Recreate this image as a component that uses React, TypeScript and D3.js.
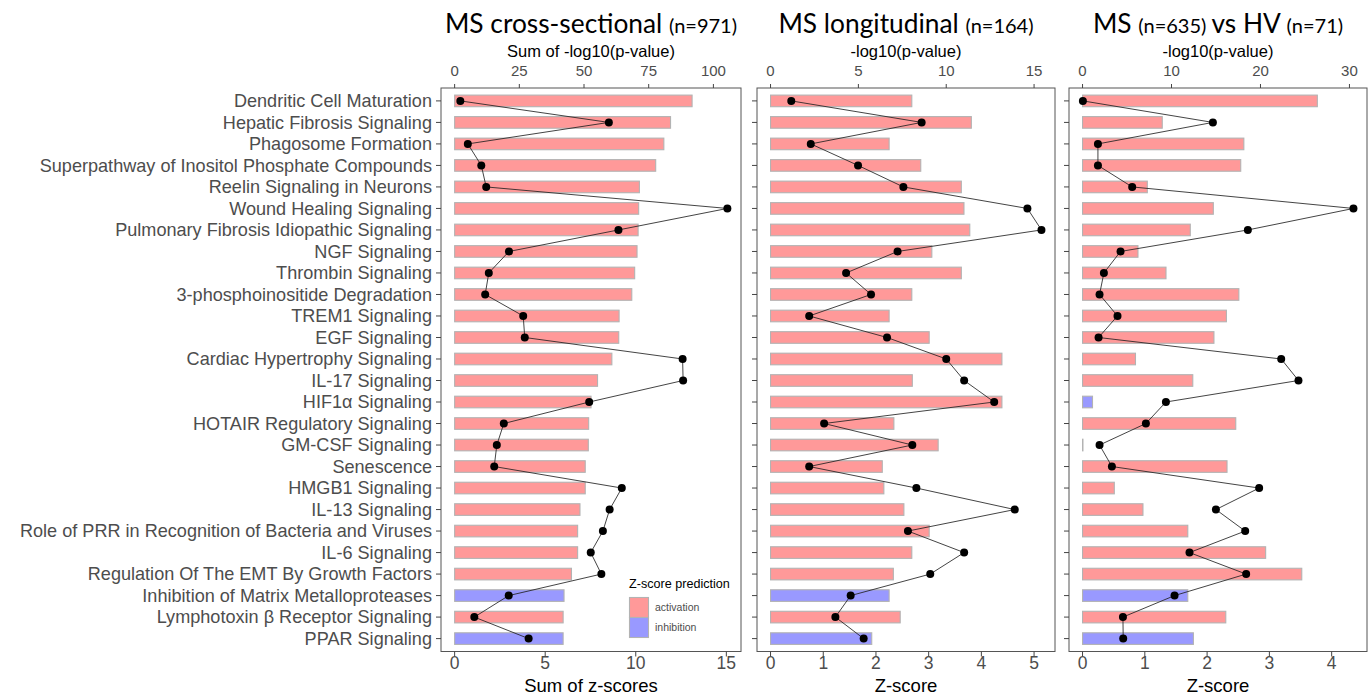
import React from "react";
import * as d3 from "d3";

const categories = [
  "Dendritic Cell Maturation",
  "Hepatic Fibrosis Signaling",
  "Phagosome Formation",
  "Superpathway of Inositol Phosphate Compounds",
  "Reelin Signaling in Neurons",
  "Wound Healing Signaling",
  "Pulmonary Fibrosis Idiopathic Signaling",
  "NGF Signaling",
  "Thrombin Signaling",
  "3-phosphoinositide Degradation",
  "TREM1 Signaling",
  "EGF Signaling",
  "Cardiac Hypertrophy Signaling",
  "IL-17 Signaling",
  "HIF1α Signaling",
  "HOTAIR Regulatory Signaling",
  "GM-CSF Signaling",
  "Senescence",
  "HMGB1 Signaling",
  "IL-13 Signaling",
  "Role of PRR in Recognition of Bacteria and Viruses",
  "IL-6 Signaling",
  "Regulation Of The EMT By Growth Factors",
  "Inhibition of Matrix Metalloproteases",
  "Lymphotoxin β Receptor Signaling",
  "PPAR Signaling",
];

// Panel 1: MS cross-sectional
const crossZ = [13.11, 11.92, 11.55, 11.1, 10.2, 10.16, 10.13, 10.07, 9.94, 9.78, 9.08, 9.06, 8.68, 7.89, 7.53, 7.4, 7.38, 7.21, 7.21, 6.92, 6.79, 6.79, 6.45, 6.04, 5.99, 5.99];
const crossP = [2.2, 59.6, 5.1, 10.3, 12.2, 105.4, 63.3, 21, 13.2, 11.8, 26.5, 27.1, 88.1, 88.3, 52, 19, 16.3, 15.3, 64.6, 59.9, 57.3, 52.6, 56.7, 20.9, 7.6, 28.6];
const crossDir = ["a","a","a","a","a","a","a","a","a","a","a","a","a","a","a","a","a","a","a","a","a","a","a","i","a","i"];

// Panel 2: MS longitudinal
const longZ = [2.68, 3.81, 2.25, 2.85, 3.62, 3.67, 3.78, 3.06, 3.62, 2.68, 2.25, 3.01, 4.39, 2.69, 4.39, 2.34, 3.18, 2.12, 2.15, 2.53, 3.01, 2.68, 2.33, 2.25, 2.46, 1.92];
const longP = [1.18, 8.6, 2.29, 4.98, 7.56, 14.62, 15.42, 7.23, 4.3, 5.72, 2.2, 6.63, 10.0, 11.02, 12.73, 3.05, 8.07, 2.2, 8.3, 13.9, 7.82, 11.02, 9.09, 4.56, 3.69, 5.3];
const longDir = ["a","a","a","a","a","a","a","a","a","a","a","a","a","a","a","a","a","a","a","a","a","a","a","i","a","i"];

// Panel 3: MS vs HV
const hvZ = [3.77, 1.28, 2.59, 2.54, 1.04, 2.1, 1.73, 0.89, 1.34, 2.51, 2.31, 2.11, 0.85, 1.77, 0.16, 2.46, 0.0, 2.32, 0.51, 0.97, 1.69, 2.94, 3.52, 1.69, 2.3, 1.78];
const hvP = [0.04, 14.65, 1.73, 1.73, 5.58, 30.45, 18.58, 4.27, 2.4, 1.91, 3.93, 1.8, 22.33, 24.27, 9.37, 7.12, 1.91, 3.3, 19.85, 14.99, 18.28, 12.02, 18.39, 10.34, 4.54, 4.57];
const hvDir = ["a","a","a","a","a","a","a","a","a","a","a","a","a","a","i","a","n","a","a","a","a","a","a","i","a","i"];

const crossBottomTicks = [0, 5, 10, 15];
const crossTopTicks = [0, 25, 50, 75, 100];
const longBottomTicks = [0, 1, 2, 3, 4, 5];
const longTopTicks = [0, 5, 10, 15];
const hvBottomTicks = [0, 1, 2, 3, 4];
const hvTopTicks = [0, 10, 20, 30];

const legendKeys = ["activation", "inhibition"];

const FILL: Record<string, string> = { a: "#FF9999", i: "#9999FF", n: "#FFFFFF" };
const TEXT_GREY = "#4D4D4D";
const AXIS_FONT = "'Liberation Sans', Arial, sans-serif";
const TITLE_FONT = "Lato, 'Open Sans', sans-serif";

type Panel = {
  z: number[];
  p: number[];
  dir: string[];
  k: number;
  left: number;
  right: number;
  bottomTicks: number[];
  topTicks: number[];
  topTitle: string;
  bottomTitle: string;
  title: { text: string; big: boolean }[];
};

const panels: Panel[] = [
  {
    z: crossZ, p: crossP, dir: crossDir, k: 7, left: 441, right: 741,
    bottomTicks: crossBottomTicks, topTicks: crossTopTicks,
    topTitle: "Sum of -log10(p-value)", bottomTitle: "Sum of z-scores",
    title: [{ text: "MS cross-sectional ", big: true }, { text: "(n=971)", big: false }],
  },
  {
    z: longZ, p: longP, dir: longDir, k: 3, left: 757, right: 1055,
    bottomTicks: longBottomTicks, topTicks: longTopTicks,
    topTitle: "-log10(p-value)", bottomTitle: "Z-score",
    title: [{ text: "MS longitudinal ", big: true }, { text: "(n=164)", big: false }],
  },
  {
    z: hvZ, p: hvP, dir: hvDir, k: 7, left: 1069, right: 1367,
    bottomTicks: hvBottomTicks, topTicks: hvTopTicks,
    topTitle: "-log10(p-value)", bottomTitle: "Z-score",
    title: [
      { text: "MS ", big: true }, { text: "(n=635) ", big: false },
      { text: "vs HV ", big: true }, { text: "(n=71)", big: false },
    ],
  },
];

const TOP = 88;
const BOTTOM = 651.5;

const y = d3.scalePoint<string>().domain(categories).range([TOP, BOTTOM]).padding(0.6);
const barH = y.step() * 0.54;

function PanelView({ pn, showLabels, showLegend }: { pn: Panel; showLabels: boolean; showLegend: boolean }) {
  const M = Math.max(d3.max(pn.z) as number, (d3.max(pn.p) as number) / pn.k);
  const x = d3.scaleLinear().domain([-0.05 * M, M * 1.05]).range([pn.left, pn.right]);
  const xTop = d3.scaleLinear().domain([-0.05 * M * pn.k, M * 1.05 * pn.k]).range([pn.left, pn.right]);
  const line = d3
    .line<number>()
    .x((d) => xTop(d))
    .y((_, i) => y(categories[i]) as number);
  const cx = (pn.left + pn.right) / 2;
  return (
    <g>
      {/* bars */}
      {categories.map((c, i) => (
        <rect
          key={"b" + i}
          x={x(0)}
          y={(y(c) as number) - barH / 2}
          width={Math.max(0.4, x(pn.z[i]) - x(0))}
          height={barH}
          fill={FILL[pn.dir[i]]}
          stroke="#B3B3B3"
          strokeWidth={1.1}
        />
      ))}
      {/* line + points */}
      <path d={line(pn.p) as string} fill="none" stroke="#222" strokeWidth={0.85} />
      {categories.map((c, i) => (
        <circle key={"p" + i} cx={xTop(pn.p[i])} cy={y(c) as number} r={4} fill="#000" />
      ))}
      {/* panel border */}
      <rect x={pn.left} y={TOP} width={pn.right - pn.left} height={BOTTOM - TOP} fill="none" stroke="#555" strokeWidth={1} />
      {/* left ticks */}
      {categories.map((c, i) => (
        <line key={"yt" + i} x1={pn.left - 5} x2={pn.left} y1={y(c) as number} y2={y(c) as number} stroke="#444" strokeWidth={1} />
      ))}
      {showLabels &&
        categories.map((c, i) => (
          <text
            key={"yl" + i}
            x={pn.left - 9}
            y={y(c) as number}
            dy="0.35em"
            textAnchor="end"
            fontFamily={AXIS_FONT}
            fontSize={18.1}
            fill={TEXT_GREY}
          >
            {c}
          </text>
        ))}
      {/* bottom axis */}
      {pn.bottomTicks.map((t) => (
        <g key={"bt" + t}>
          <line x1={x(t)} x2={x(t)} y1={BOTTOM} y2={BOTTOM + 5} stroke="#444" strokeWidth={1} />
          <text x={x(t)} y={BOTTOM + 17} textAnchor="middle" fontFamily={AXIS_FONT} fontSize={17.5} fill={TEXT_GREY}>
            {t}
          </text>
        </g>
      ))}
      <text x={cx} y={691.5} textAnchor="middle" fontFamily={AXIS_FONT} fontSize={18.5} fill="#000">
        {pn.bottomTitle}
      </text>
      {/* top axis */}
      {pn.topTicks.map((t) => (
        <g key={"tt" + t}>
          <line x1={xTop(t)} x2={xTop(t)} y1={TOP - 4} y2={TOP} stroke="#444" strokeWidth={1} />
          <text x={xTop(t)} y={76} textAnchor="middle" fontFamily={AXIS_FONT} fontSize={15} fill={TEXT_GREY}>
            {t}
          </text>
        </g>
      ))}
      <text x={cx} y={57} textAnchor="middle" fontFamily={AXIS_FONT} fontSize={16.5} fill="#000">
        {pn.topTitle}
      </text>
      {/* title */}
      <text x={cx} y={33} textAnchor="middle" fontFamily={TITLE_FONT} fill="#000">
        {pn.title.map((t, i) => (
          <tspan key={i} fontSize={t.big ? 26.3 : 20}>
            {t.text}
          </tspan>
        ))}
      </text>
      {showLegend && (
        <g>
          <text x={629} y={588} fontFamily={AXIS_FONT} fontSize={12.6} fill="#000">
            Z-score prediction
          </text>
          {legendKeys.map((k, i) => (
            <g key={k}>
              <rect x={629.5} y={597.5 + i * 20} width={19} height={20} fill={i === 0 ? FILL.a : FILL.i} stroke="#B3B3B3" strokeWidth={1.1} />
              <text x={655} y={607.5 + i * 20} dy="0.35em" fontFamily={AXIS_FONT} fontSize={10.5} fill={TEXT_GREY}>
                {k}
              </text>
            </g>
          ))}
        </g>
      )}
    </g>
  );
}

export default function App() {
  return (
    <svg
      width={1369}
      height={696}
      viewBox="0 0 1369 696"
      style={{ position: "absolute", left: 0, top: 0, background: "#fff" }}
    >
      <rect x={0} y={0} width={1369} height={696} fill="#fff" />
      {panels.map((pn, i) => (
        <PanelView key={i} pn={pn} showLabels={i === 0} showLegend={i === 0} />
      ))}
    </svg>
  );
}
